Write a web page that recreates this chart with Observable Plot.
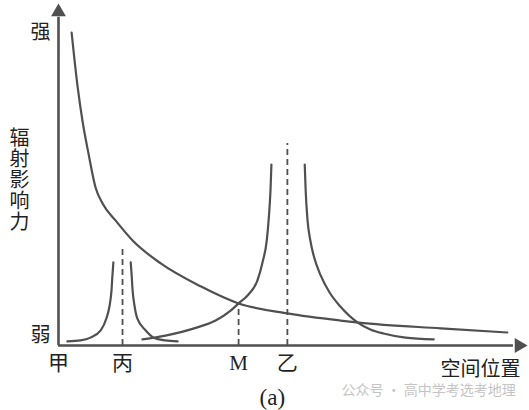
<!DOCTYPE html>
<html>
<head>
<meta charset="utf-8">
<script src="https://cdn.jsdelivr.net/npm/d3@7"></script>
<script src="https://cdn.jsdelivr.net/npm/@observablehq/plot@0.6"></script>
<style>
  html, body { margin: 0; padding: 0; background: #fff; }
</style>
</head>
<body>
<div id="chart"></div>
<script>
// Big decreasing curve (甲's influence)
const jiaX = [2.8, 4.1, 5.1, 6.4, 7.9, 9.4, 12.2, 15.8, 21.8, 30.3, 38.4, 48.8, 60.1, 64.0, 81.5, 95.7];
const jiaY = [91.5, 75.4, 65.8, 56.1, 46.2, 41.5, 36.5, 30.7, 24.0, 17.3, 12.3, 9.4, 7.3, 6.7, 5.0, 3.8];
// 丙 peak, left and right branches
const bingLeftX = [1.9, 4.7, 6.8, 9.0, 10.2, 10.9, 11.3, 11.5, 11.7];
const bingLeftY = [1.2, 1.5, 2.3, 4.4, 7.9, 11.7, 16.1, 20.5, 24.3];
const bingRightX = [15.4, 15.6, 15.8, 16.2, 16.8, 18.6, 20.3, 22.8, 25.4];
const bingRightY = [24.3, 20.5, 16.1, 11.7, 7.9, 4.4, 2.3, 1.5, 1.2];
// 乙 peak, left and right branches
const yiLeftX = [17.9, 22.8, 29.6, 33.5, 36.7, 38.4, 40.5, 42.4, 43.5, 44.4, 44.8, 45.2, 45.4];
const yiLeftY = [1.8, 2.9, 5.3, 7.3, 10.2, 12.3, 14.9, 19.0, 24.3, 30.7, 36.6, 45.3, 52.9];
const yiRightX = [52.5, 52.7, 53.1, 53.7, 54.4, 55.9, 57.8, 60.1, 63.8, 66.5, 69.3, 74.0, 80.0];
const yiRightY = [52.9, 45.3, 36.6, 30.7, 26.3, 20.5, 15.5, 11.4, 6.7, 4.7, 3.5, 2.3, 1.8];
// places on the x axis and dashed guide lines
const placeNames = ["甲", "丙", "M", "乙"];
const placeX = [0, 13.65, 38.4, 48.8];
const guideNames = ["丙", "M", "乙"];
const guideX = [13.65, 38.4, 48.8];
const guideTop = [28.7, 12.3, 59.1];
// y-axis words
const levelNames = ["强", "弱"];
const levelY = [91.5, 2.9];
const yTitle = "辐射影响力";
const xTitle = "空间位置";
const caption = "(a)";
const watermark = "公众号 · 高中学考选考地理";

const toPts = (xs, ys, id) => xs.map((x, i) => ({x, y: ys[i], id}));
const curves = [
  ...toPts(jiaX, jiaY, "jia"),
  ...toPts(bingLeftX, bingLeftY, "bingL"),
  ...toPts(bingRightX, bingRightY, "bingR"),
  ...toPts(yiLeftX, yiLeftY, "yiL"),
  ...toPts(yiRightX, yiRightY, "yiR")
];
const places = placeNames.map((name, i) => ({name, x: placeX[i]}));
const guides = guideNames.map((name, i) => ({name, x: guideX[i], top: guideTop[i]}));
const levels = levelNames.map((name, i) => ({name, y: levelY[i]}));

const ink = "#505050";
const font = "'Liberation Serif', 'Noto Sans CJK SC', serif";

const chart = Plot.plot({
  width: 529,
  height: 410,
  marginLeft: 58,
  marginRight: 2,
  marginTop: 3,
  marginBottom: 65,
  x: {domain: [0, 100], axis: null},
  y: {domain: [0, 100], axis: null},
  style: {fontFamily: font, background: "#fff", overflow: "visible"},
  marks: [
    Plot.ruleX(guides, {x: "x", y1: 0, y2: "top", stroke: ink, strokeWidth: 1.8, strokeDasharray: "6,4"}),
    Plot.line(curves, {x: "x", y: "y", z: "id", curve: "monotone-x", stroke: ink, strokeWidth: 2.2}),
    Plot.ruleX([0], {y1: 0, y2: 96, stroke: ink, strokeWidth: 2.6}),
    Plot.ruleY([0], {x1: 0, x2: 97, stroke: ink, strokeWidth: 2.6}),
    Plot.dot([{x: 0, y: 100}], {x: "x", y: "y", symbol: "triangle", r: 5.5, fill: ink, stroke: "none", dy: 8.5}),
    Plot.dot([{x: 100, y: 0}], {x: "x", y: "y", symbol: "triangle", r: 5.5, fill: ink, stroke: "none", rotate: 90, dx: -8.5}),
    Plot.text(places, {x: "x", y: 0, text: "name", dy: 18, fontSize: 21, fill: "#222"}),
    Plot.text(levels, {x: 0, y: "y", text: "name", dx: -18, fontSize: 20, fill: "#222"}),
    Plot.text([yTitle.split("").join("\n")], {x: 0, y: 48.2, text: d => d, dx: -39, fontSize: 20, lineHeight: 1.05, fill: "#222"}),
    Plot.text([xTitle], {x: 98.5, y: 0, text: d => d, textAnchor: "end", dy: 24, fontSize: 20, fill: "#222"}),
    Plot.text([caption], {x: 45.6, y: 0, text: d => d, dy: 52, fontSize: 23, fill: "#222"}),
    Plot.text([watermark], {x: 97.5, y: 0, text: d => d, textAnchor: "end", dy: 45, fontSize: 14, fill: "#c4c4c4", fontFamily: "'Noto Sans CJK SC', sans-serif"})
  ]
});
document.getElementById("chart").appendChild(chart);
</script>
</body>
</html>
